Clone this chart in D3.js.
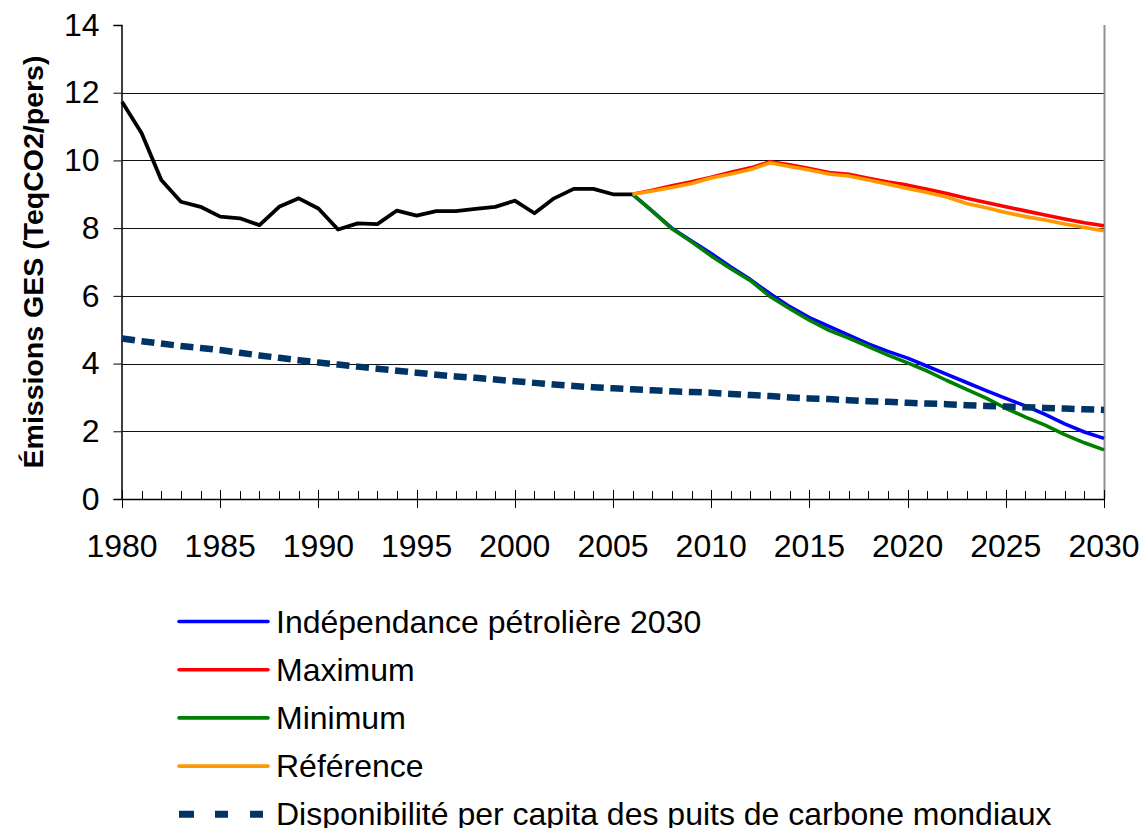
<!DOCTYPE html>
<html>
<head>
<meta charset="utf-8">
<script src="https://cdn.jsdelivr.net/npm/d3@7"></script>
<style>
  html, body { margin: 0; padding: 0; background: #fff; }
  svg { display: block; font-family: "Liberation Sans", Arial, sans-serif; }
</style>
</head>
<body>
<svg id="chart" width="1142" height="828"></svg>
<script>
// ---- Data ----
const histYears = d3.range(1980, 2007);
const historique = [11.73, 10.80, 9.42, 8.78, 8.63, 8.34, 8.29, 8.09, 8.63, 8.88,
  8.58, 7.96, 8.14, 8.12, 8.52, 8.37, 8.50, 8.50, 8.57, 8.63,
  8.81, 8.44, 8.88, 9.16, 9.16, 9.00, 9.00];

const scenYears = d3.range(2006, 2031);
const independance = [9.00, 8.50, 8.00, 7.62, 7.25, 6.85, 6.48, 6.06, 5.68, 5.36,
  5.10, 4.84, 4.58, 4.36, 4.16, 3.92, 3.68, 3.44, 3.20, 2.97,
  2.75, 2.50, 2.22, 1.98, 1.79];
const maximum = [9.00, 9.12, 9.25, 9.37, 9.50, 9.65, 9.78, 9.96, 9.87, 9.76,
  9.64, 9.59, 9.47, 9.36, 9.27, 9.15, 9.02, 8.88, 8.76, 8.63,
  8.51, 8.39, 8.27, 8.16, 8.07];
const minimum = [9.00, 8.50, 7.98, 7.60, 7.18, 6.80, 6.45, 5.98, 5.62, 5.28,
  4.98, 4.75, 4.50, 4.25, 4.02, 3.78, 3.50, 3.24, 2.98, 2.68,
  2.42, 2.18, 1.90, 1.66, 1.45];
const reference = [9.00, 9.10, 9.20, 9.32, 9.48, 9.60, 9.73, 9.93, 9.82, 9.72,
  9.60, 9.54, 9.42, 9.30, 9.17, 9.05, 8.92, 8.73, 8.60, 8.46,
  8.34, 8.24, 8.12, 8.02, 7.92];

const allYears = d3.range(1980, 2031);
const disponibilite = [4.74, 4.66, 4.59, 4.52, 4.46, 4.40, 4.32, 4.24, 4.17, 4.10,
  4.03, 3.97, 3.91, 3.85, 3.79, 3.73, 3.67, 3.62, 3.58, 3.53,
  3.48, 3.43, 3.38, 3.34, 3.30, 3.27, 3.24, 3.21, 3.18, 3.16,
  3.14, 3.10, 3.07, 3.04, 3.00, 2.97, 2.95, 2.92, 2.89, 2.87,
  2.84, 2.82, 2.80, 2.77, 2.75, 2.73, 2.71, 2.69, 2.67, 2.65, 2.63];

const yTicks = [0, 2, 4, 6, 8, 10, 12, 14];
const xMajorTicks = [1980, 1985, 1990, 1995, 2000, 2005, 2010, 2015, 2020, 2025, 2030];
const yTitle = "Émissions GES (TeqCO2/pers)";

const legendItems = [
  { label: "Indépendance pétrolière 2030", color: "#0000FF", dashed: false },
  { label: "Maximum", color: "#FF0000", dashed: false },
  { label: "Minimum", color: "#008000", dashed: false },
  { label: "Référence", color: "#FF9900", dashed: false },
  { label: "Disponibilité per capita des puits de carbone mondiaux", color: "#003366", dashed: true }
];

// ---- Layout ----
const svg = d3.select("#chart");
const x = d3.scaleLinear().domain([1980, 2030]).range([122, 1104]);
const y = d3.scaleLinear().domain([0, 14]).range([499, 25]);

// gridlines
svg.append("g").selectAll("line")
  .data(yTicks.filter(d => d > 0 && d < 14))
  .join("line")
  .attr("x1", x(1980)).attr("x2", x(2030))
  .attr("y1", d => Math.round(y(d)) + 0.5).attr("y2", d => Math.round(y(d)) + 0.5)
  .attr("stroke", "#111").attr("stroke-width", 1);

// right plot border
svg.append("line")
  .attr("x1", x(2030) + 0.5).attr("x2", x(2030) + 0.5)
  .attr("y1", y(14)).attr("y2", y(0))
  .attr("stroke", "#909090").attr("stroke-width", 2);

// y axis
const yAxis = d3.axisLeft(y).tickValues(yTicks).tickSize(8).tickPadding(14)
  .tickFormat(d3.format("d"));
const gy = svg.append("g").attr("transform", "translate(121.5,0)").call(yAxis);
gy.select(".domain").attr("stroke", "#000").attr("stroke-width", 1.5);
gy.selectAll(".tick line").attr("stroke", "#000");
gy.selectAll(".tick text").attr("font-size", 32).attr("fill", "#000")
  .attr("font-family", "'Liberation Sans', Arial, sans-serif");

// x axis: minor ticks inside, major crossing
const gx = svg.append("g");
gx.append("line").attr("x1", x(1980)).attr("x2", x(2030))
  .attr("y1", 499.5).attr("y2", 499.5).attr("stroke", "#000").attr("stroke-width", 1.5);
gx.selectAll("line.minor").data(allYears).join("line").attr("class", "minor")
  .attr("x1", d => Math.round(x(d)) + 0.5).attr("x2", d => Math.round(x(d)) + 0.5)
  .attr("y1", 491).attr("y2", 499.5).attr("stroke", "#000");
gx.selectAll("line.major").data(xMajorTicks).join("line").attr("class", "major")
  .attr("x1", d => Math.round(x(d)) + 0.5).attr("x2", d => Math.round(x(d)) + 0.5)
  .attr("y1", 490).attr("y2", 508).attr("stroke", "#000");
gx.selectAll("text").data(xMajorTicks).join("text")
  .attr("x", d => x(d)).attr("y", 557)
  .attr("text-anchor", "middle").attr("font-size", 32).attr("fill", "#000")
  .text(d => d);

// y title
svg.append("text")
  .attr("transform", `translate(43,${(y(0) + y(14)) / 2}) rotate(-90)`)
  .attr("text-anchor", "middle").attr("font-size", 28.5).attr("font-weight", "bold")
  .attr("fill", "#000").text(yTitle);

// lines
const line = d3.line().x(d => x(d[0])).y(d => y(d[1]));
const zipS = (yrs, vals) => yrs.map((yr, i) => [yr, vals[i]]);

svg.append("path").datum(zipS(histYears, historique))
  .attr("d", line).attr("fill", "none").attr("stroke", "#000")
  .attr("stroke-width", 3.8).attr("stroke-linejoin", "round");

const series = [
  { vals: independance, color: "#0000FF" },
  { vals: maximum, color: "#FF0000" },
  { vals: minimum, color: "#008000" },
  { vals: reference, color: "#FF9900" }
];
series.forEach(s => {
  svg.append("path").datum(zipS(scenYears, s.vals))
    .attr("d", line).attr("fill", "none").attr("stroke", s.color)
    .attr("stroke-width", 3.6).attr("stroke-linejoin", "round");
});

svg.append("path").datum(zipS(allYears, disponibilite))
  .attr("d", line).attr("fill", "none").attr("stroke", "#003366")
  .attr("stroke-width", 6.5).attr("stroke-dasharray", "13,6.64");

// legend
const lg = svg.append("g");
legendItems.forEach((it, i) => {
  const ly = 621.5 + i * 48.2;
  lg.append("line").attr("x1", 179).attr("x2", 268).attr("y1", ly).attr("y2", ly)
    .attr("stroke", it.color)
    .attr("stroke-width", it.dashed ? 7 : 3.6)
    .attr("stroke-dasharray", it.dashed ? "15,21,13,22,13,30" : null)
    .attr("stroke-linecap", it.dashed ? "butt" : "round");
  lg.append("text").attr("x", 276).attr("y", ly + 11)
    .attr("font-size", 32).attr("fill", "#000").text(it.label);
});
</script>
</body>
</html>
